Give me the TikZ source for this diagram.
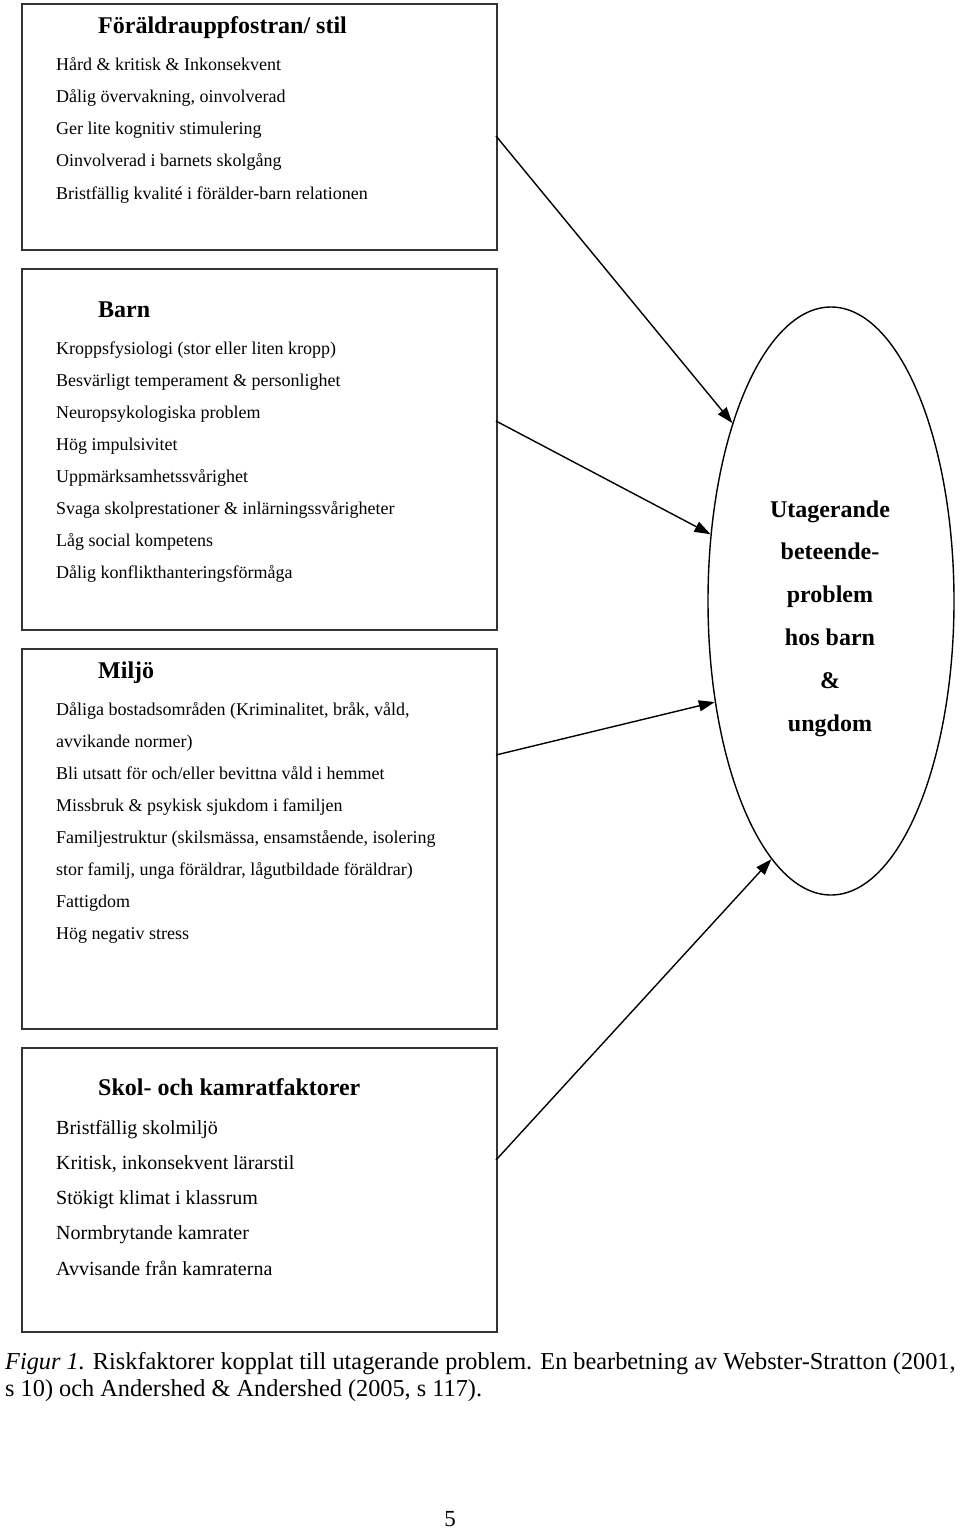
\documentclass[tikz,border=0pt]{standalone}
\usepackage{fontspec}
\setmainfont{Liberation Serif}
\usetikzlibrary{arrows.meta,shapes.geometric}
\begin{document}
\begin{tikzpicture}[x=1pt,y=-1pt,
  box/.style={draw=black!80,line width=1.6pt,anchor=north west,inner sep=0pt},
  head/.style={anchor=base west,inner sep=0pt,font=\fontsize{24}{28}\selectfont\bfseries},
  item/.style={anchor=base west,inner sep=0pt,font=\fontsize{18}{22}\selectfont},
  itemb/.style={anchor=base west,inner sep=0pt,font=\fontsize{20}{24}\selectfont},
  etext/.style={anchor=base,inner sep=0pt,font=\fontsize{24}{28}\selectfont\bfseries},
  captext/.style={anchor=base west,inner sep=0pt,font=\fontsize{24.3}{28}\selectfont},
  arr/.style={line width=1.4pt,-{Triangle[length=16pt,width=11pt]}}]
\useasboundingbox (0,0) rectangle (960,1531);
\fill[white] (0,0) rectangle (960,1531);

% boxes
\node[box,minimum width=475pt,minimum height=246pt] (b1) at (21,3) {};
\node[box,minimum width=475pt,minimum height=361pt] (b2) at (21,268) {};
\node[box,minimum width=475pt,minimum height=380pt] (b3) at (21,648) {};
\node[box,minimum width=475pt,minimum height=284pt] (b4) at (21,1047) {};

% box 1
\node[head] (h1) at (98,33) {Föräldrauppfostran/ stil};
\foreach \t [count=\i] in {{Hård \& kritisk \& Inkonsekvent},{Dålig övervakning, oinvolverad},{Ger lite kognitiv stimulering},{Oinvolverad i barnets skolgång},{Bristfällig kvalité i förälder-barn relationen}}
  \node[item] (p\i) at (56,{70+32.3*(\i-1)}) {\t};

% box 2
\node[head] (h2) at (98,317) {Barn};
\foreach \t [count=\i] in {{Kroppsfysiologi (stor eller liten kropp)},{Besvärligt temperament \& personlighet},{Neuropsykologiska problem},{Hög impulsivitet},{Uppmärksamhetssvårighet},{Svaga skolprestationer \& inlärningssvårigheter},{Låg social kompetens},{Dålig konflikthanteringsförmåga}}
  \node[item] (c\i) at (56,{354+32*(\i-1)}) {\t};

% box 3
\node[head] (h3) at (98,678) {Miljö};
\foreach \t [count=\i] in {{Dåliga bostadsområden (Kriminalitet, bråk, våld,},{avvikande normer)},{Bli utsatt för och/eller bevittna våld i hemmet},{Missbruk \& psykisk sjukdom i familjen},{Familjestruktur (skilsmässa, ensamstående, isolering},{stor familj, unga föräldrar, lågutbildade föräldrar)},{Fattigdom},{Hög negativ stress}}
  \node[item] (m\i) at (56,{715+32*(\i-1)}) {\t};

% box 4
\node[head] (h4) at (98,1095) {Skol- och kamratfaktorer};
\foreach \t [count=\i] in {{Bristfällig skolmiljö},{Kritisk, inkonsekvent lärarstil},{Stökigt klimat i klassrum},{Normbrytande kamrater},{Avvisande från kamraterna}}
  \node[itemb] (s\i) at (56,{1134+35.3*(\i-1)}) {\t};

% ellipse
\node[draw=black,ellipse,line width=1.4pt,minimum width=246pt,minimum height=588pt,inner sep=0pt] (e) at (831,601) {};
\foreach \t [count=\i] in {Utagerande,beteende-,problem,hos barn,\&,ungdom}
  \node[etext] (u\i) at (830,{517+42.8*(\i-1)}) {\t};

% connector start points
\coordinate (o1) at (496,136);
\coordinate (o2) at (496,421);
\coordinate (o3) at (496,755);
\coordinate (o4) at (496,1160);
\draw[arr] (o1) -- (e.119.5);
\draw[arr] (o2) -- (e.151.4);
\draw[arr] (o3) -- (e.221.6);
\draw[arr] (o4) -- (e.257.5);

% caption
\node[captext] (cap1) at (5,1369) {\textit{Figur 1.} Riskfaktorer kopplat till utagerande problem. En bearbetning av Webster-Stratton (2001,};
\node[captext] (cap2) at (5,1396) {s 10) och Andershed \& Andershed (2005, s 117).};
\node[anchor=base,inner sep=0pt,font=\fontsize{23}{26}\selectfont] (pg) at (450,1526) {5};
\end{tikzpicture}
\end{document}
